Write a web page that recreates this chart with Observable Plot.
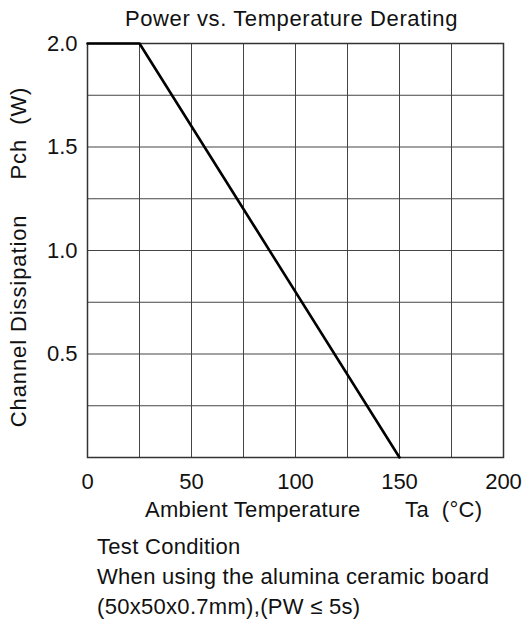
<!DOCTYPE html>
<html>
<head>
<meta charset="utf-8">
<script src="https://cdn.jsdelivr.net/npm/d3@7"></script>
<script src="https://cdn.jsdelivr.net/npm/@observablehq/plot@0.6"></script>
<style>
  html, body { margin: 0; padding: 0; background: #fff; }
  #wrap { position: relative; width: 526px; height: 627px; overflow: hidden;
          font-family: "Liberation Sans", Arial, sans-serif; color: #111; }
  .t { position: absolute; font-size: 22px; line-height: 22px; white-space: pre; }
  #title { left: 0px; width: 583px; top: 8px; text-align: center; letter-spacing: 0.6px; }
  #xlabel { left: 145px; top: 499px; letter-spacing: 0.3px; }
  #ylabel { left: -181px; width: 400px; top: 246px; text-align: center; transform: rotate(-90deg); letter-spacing: 0.9px; }
  #caption { position: absolute; left: 97px; top: 532px; font-size: 22px; line-height: 30px; white-space: pre; letter-spacing: 0.3px; }
</style>
</head>
<body>
<div id="wrap">
  <div id="chart"></div>
  <div class="t" id="title"></div>
  <div class="t" id="xlabel"></div>
  <div class="t" id="ylabel"></div>
  <div id="caption"></div>
</div>
<script>
// Data
const temperature = [0, 25, 150];          // Ta (°C)
const dissipation = [2.0, 2.0, 0.0];        // Pch (W)

const xTicks = [0, 50, 100, 150, 200];
const yTicks = [0.5, 1.0, 1.5, 2.0];
const xGrid = [25, 50, 75, 100, 125, 150, 175];
const yGrid = [0.25, 0.5, 0.75, 1.0, 1.25, 1.5, 1.75];

const titleText = "Power vs. Temperature Derating";
const xLabelText = "Ambient Temperature       Ta  (°C)";
const yLabelText = "Channel Dissipation     Pch  (W)";
const captionLines = [
  "Test Condition",
  "When using the alumina ceramic board",
  "(50x50x0.7mm),(PW \u2264 5s)"
];

const data = temperature.map((t, i) => ({t, p: dissipation[i]}));

const chart = Plot.plot({
  width: 526,
  height: 627,
  marginTop: 43,
  marginBottom: 170,
  marginLeft: 87,
  marginRight: 23,
  style: {fontSize: "22px", fontFamily: "'Liberation Sans', Arial, sans-serif", background: "#fff", color: "#111"},
  x: {domain: [0, 200]},
  y: {domain: [0, 2]},
  marks: [
    Plot.ruleX(xGrid, {stroke: "#444", strokeWidth: 1}),
    Plot.ruleY(yGrid, {stroke: "#444", strokeWidth: 1}),
    Plot.frame({stroke: "#333", strokeWidth: 1.5}),
    Plot.line(data, {x: "t", y: "p", stroke: "#000", strokeWidth: 2.6}),
    Plot.axisX(xTicks, {tickSize: 0, tickPadding: 16, label: null, tickFormat: d => String(d)}),
    Plot.axisY(yTicks, {tickSize: 0, tickPadding: 10, label: null, tickFormat: d => d.toFixed(1)})
  ]
});
document.getElementById("chart").appendChild(chart);
document.getElementById("title").textContent = titleText;
document.getElementById("xlabel").textContent = xLabelText;
document.getElementById("ylabel").textContent = yLabelText;
document.getElementById("caption").textContent = captionLines.join("\n");
</script>
</body>
</html>
